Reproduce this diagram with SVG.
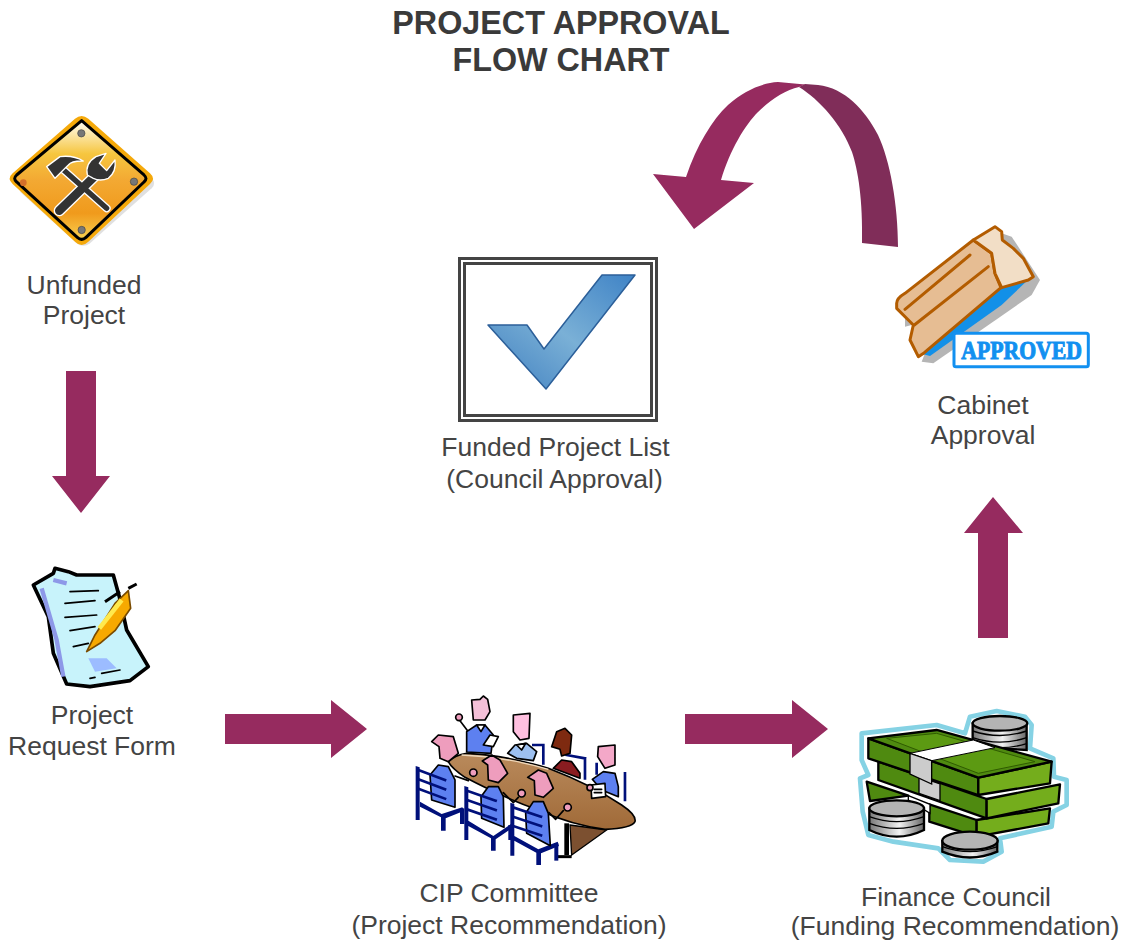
<svg xmlns="http://www.w3.org/2000/svg" width="1123" height="940" viewBox="0 0 1123 940">
<style>
.t{font-family:"Liberation Sans",Arial,sans-serif;font-size:26.500px;fill:#444;text-anchor:middle}
.h{font-family:"Liberation Sans",Arial,sans-serif;font-size:32.300px;font-weight:bold;fill:#3a3a3a;text-anchor:middle}
.a{fill:#962b5f}
.o{stroke:#000;stroke-width:5;stroke-linejoin:round;stroke-linecap:round}
.l{fill:none;stroke:#000;stroke-width:5;stroke-linejoin:round;stroke-linecap:round}
.cb{fill:none;stroke:#00107a;stroke-width:8;stroke-linecap:square}
.st{fill:#00107a}
.sk{fill:#ee9dbd}
.sk2{fill:#f4c0d8}
.b{fill:#5d80f0}
.d{fill:#4f8a10;stroke:#000;stroke-width:7;stroke-linejoin:round}
.e{fill:#74ad1c;stroke:#000;stroke-width:7;stroke-linejoin:round}
.c{fill:#b4b4b4;stroke:#000;stroke-width:7}
.cs{fill:url(#coin);stroke:#000;stroke-width:7}
.cl{fill:none;stroke:#000;stroke-width:4}
.s{stroke:#b35c00;stroke-width:9;stroke-linejoin:round;stroke-linecap:round}
</style>
<defs>
<linearGradient id="sign" x1="0" y1="0" x2="0" y2="1"><stop offset="0" stop-color="#fffdf4"/><stop offset=".28" stop-color="#f6c63f"/><stop offset=".5" stop-color="#f3a933"/><stop offset=".78" stop-color="#f09a1c"/><stop offset="1" stop-color="#f8d050"/></linearGradient>
<linearGradient id="chk" x1="0" y1="1" x2="1" y2="0"><stop offset="0" stop-color="#3f7fc0"/><stop offset=".5" stop-color="#7ab0d6"/><stop offset="1" stop-color="#3f83c6"/></linearGradient>
<linearGradient id="coin" x1="0" y1="0" x2="1" y2="0"><stop offset="0" stop-color="#777"/><stop offset=".55" stop-color="#f2f2f2"/><stop offset="1" stop-color="#666"/></linearGradient>
<linearGradient id="tab" x1="0" y1="0" x2="0" y2="1"><stop offset="0" stop-color="#b98a5c"/><stop offset="1" stop-color="#a06a38"/></linearGradient>
</defs>
<rect width="1123" height="940" fill="#fff"/>

<g id="title"><text class="h" x="561" y="34">PROJECT APPROVAL</text><text class="h" x="561" y="70.500">FLOW CHART</text></g>

<g id="connectors">
<path class="a" d="M66 371H96V476H110L81 513L52 476H66Z"/>
<path class="a" d="M225 714H331V700L367 729L331 758V744H225Z"/>
<path class="a" d="M685 714H792V700L828 729L792 758V744H685Z"/>
<path class="a" d="M978 638H1008V533H1023L993 497L964 533H978Z"/>
<path fill="#802d59" d="M799 87L805 84L818 85C845 88 865 110 878 135C890 160 898 205 898 247L862 243C863 200 858 170 852 152C842 125 820 100 799 87Z"/>
<path class="a" d="M653 174L686 177C697 145 712 120 728 105C745 90 762 83 778 82L805 84.500L799 87C785 90 770 100 758 112C745 125 730 150 721 180L754 183L694 229Z"/>
</g>

<g id="unfunded-project" transform="scale(.3333) translate(0 300)">
<path d="M250 60Q260 58 270 66L455 235Q470 250 455 265L270 430Q250 445 230 430L60 275Z" fill="#bbb" opacity=".45"/>
<path d="M245 48Q255 48 265 56L450 220Q468 236 450 252L265 425Q245 445 225 425L38 252Q20 236 38 220L225 56Q235 48 245 48Z" fill="#f5a90a"/>
<path d="M245 62L432 225Q444 236 432 246L258 412Q245 424 232 412L50 246Q38 236 50 225Z" fill="url(#sign)" stroke="#000" stroke-width="9" stroke-linejoin="round"/>
<circle cx="244" cy="100" r="11" fill="#777" stroke="#444" stroke-width="2"/><circle cx="402" cy="245" r="11" fill="#777" stroke="#444" stroke-width="2"/><circle cx="245" cy="390" r="11" fill="#777" stroke="#444" stroke-width="2"/><circle cx="70" cy="248" r="10" fill="#d5702a"/>
<g fill="none" stroke-linecap="round">
<path d="M185 205L320 325" stroke="#fff" stroke-width="24"/>
<path d="M178 332L285 228" stroke="#fff" stroke-width="34"/>
<path d="M178 332L285 228" stroke="#333" stroke-width="26"/>
<path d="M185 205L320 325" stroke="#333" stroke-width="16"/>
</g>
<path d="M140 200L180 170Q220 165 250 183Q215 182 205 195L165 235Z" fill="#333" stroke="#fff" stroke-width="4" stroke-linejoin="round"/>
<path d="M288 170L318 160L298 190L320 212L345 180Q350 215 325 235Q300 245 280 235L262 225Q255 190 288 170Z" fill="#333" stroke="#fff" stroke-width="4" stroke-linejoin="round"/>
</g>
<g id="unfunded-project-label"><text class="t" x="84" y="294">Unfunded</text><text class="t" x="84" y="324">Project</text></g>

<g id="project-request-form" transform="translate(20 560) scale(.3333)">
<path d="M105 25L145 35L170 45L280 45L298 110L320 210L385 320L330 362L210 380L140 372L100 280L85 170L40 75L100 40Z" fill="#c8f3fb" stroke="#000" stroke-width="11" stroke-linejoin="round"/>
<path d="M65 85L110 240L130 350M100 60L140 70" stroke="#8d98e8" stroke-width="13" fill="none"/>
<path d="M150 95L235 92M135 130L225 122M135 172L230 165M150 212L225 200M160 260L205 250" class="l" stroke-width="8" stroke="#333"/>
<path d="M205 295L260 295L290 325L225 335Z" fill="#9cbcff"/>
<path d="M245 340L300 330M210 355L225 352" class="l" stroke-width="7"/>
<path d="M200 275L225 225L285 130L325 92L332 145L285 212L240 250Z" fill="#f7a900" stroke="#7a4b00" stroke-width="5" stroke-linejoin="round"/>
<path d="M238 205L305 120" stroke="#ffe94d" stroke-width="14"/>
<path d="M255 125L300 95M325 85L350 72" stroke="#000" stroke-width="9"/>
</g>
<g id="project-request-form-label"><text class="t" x="92" y="724">Project</text><text class="t" x="92" y="755">Request Form</text></g>

<g id="cip-committee" transform="translate(405 690) scale(.3333)">
<path class="cb" d="M415 165V220M385 165H415M540 205V265M485 195L540 205M660 250V330M575 222V250"/>
<circle cx="162" cy="82" r="10" class="sk o" stroke-width="4"/>
<path class="l" d="M165 92L190 125"/>
<path class="b o" d="M185 125L215 105H240L265 135L258 190L185 186Z"/>
<path class="o" fill="#fff" d="M215 105L228 125L240 105Z"/>
<path class="o" fill="#fff" d="M235 165L255 135L280 140L265 170Z"/>
<path class="sk2 o" d="M200 30L225 28L235 18L248 28L255 65L240 90L205 90Z"/>
<path class="o" fill="#9dc0f0" d="M308 190L330 165L365 160L395 185L385 212L335 205Z"/>
<path class="o" fill="#fff" d="M335 165L350 180L362 160Z"/>
<path class="o" fill="#ffc0e0" d="M325 75L375 70L372 145L345 150L325 125Z"/>
<path class="o" fill="#8a1c20" d="M445 235L470 210L500 215L525 250L525 265Z"/>
<path class="o" fill="#7e2a10" d="M440 170L455 125L480 115L500 135L495 190L470 198L465 178Z"/>
<path class="b o" d="M562 268L595 245L630 250L640 290L640 320L590 300Z"/>
<path class="o" fill="#f4a8c8" d="M580 170L630 165L630 225L600 235L578 200Z"/>
<path fill="#7c5030" stroke="#000" stroke-width="4" d="M495 405L605 420L500 495Z"/>
<path d="M485 400V495" stroke="#000" stroke-width="14"/>
<path d="M450 500H500" stroke="#000" stroke-width="9"/>
<path fill="url(#tab)" stroke="#000" stroke-width="5" d="M130 215Q150 195 185 190Q300 195 430 235Q560 285 650 345Q695 375 690 395Q680 415 600 418Q500 405 400 360Q300 325 180 262Q140 235 130 215Z"/>
<path d="M170 195Q300 200 430 238" fill="none" stroke="#efd9bc" stroke-width="4"/>
<path class="o" fill="#fff" d="M558 285L600 280L602 320L560 325Z"/>
<path class="l" d="M568 298H590M568 308H590" stroke-width="4"/>
<circle cx="555" cy="293" r="9" class="sk o" stroke-width="4"/>
<path class="st" d="M32 228L44 232V390H32ZM45 335L110 372L172 352L178 362L122 385V422H108V382L45 350Z"/>
<path class="st" d="M165 355H178V402H165Z"/>
<path class="b o" d="M75 255L100 225L130 230L150 270L150 352L80 330Z"/>
<path class="sk o" d="M80 155L100 135L145 140L160 190L130 215L105 205L102 170Z"/>
<path class="l" d="M150 258L190 272"/><circle cx="205" cy="248" r="11" class="sk o" stroke-width="4"/>
<path class="cb" d="M40 240L120 270M40 268L120 298M40 296L120 326"/>
<path class="st" d="M178 288L190 292V450H178ZM190 392L265 438L318 402L325 412L272 448V482H258V445L190 408Z"/>
<path class="st" d="M310 405H322V450H310Z"/>
<path class="b o" d="M228 320L250 290H280L295 320L297 412L230 385Z"/>
<path class="sk o" d="M232 213L260 195L285 210L308 250L280 278L250 270L248 225Z"/>
<path class="l" d="M295 308L325 338L340 322"/><circle cx="350" cy="310" r="11" class="sk o" stroke-width="4"/>
<path class="cb" d="M186 302L272 332M186 330L272 360M186 358L272 388"/>
<path class="st" d="M316 338L328 342V497H316ZM328 438L400 478L458 455L462 468L408 490V525H394V488L328 452Z"/>
<path class="st" d="M448 460H460V512H448Z"/>
<path class="b o" d="M362 370L385 335H415L430 370L436 467L365 430Z"/>
<path class="sk o" d="M368 262L400 240L425 250L445 295L415 322L390 315L388 272Z"/>
<path class="l" d="M432 368L452 388L475 362"/><circle cx="488" cy="352" r="11" class="sk o" stroke-width="4"/>
<path class="cb" d="M324 352L408 380M324 380L408 408M324 408L408 436"/>
</g>
<g id="cip-committee-label"><text class="t" x="509" y="902">CIP Committee</text><text class="t" x="509" y="934">(Project Recommendation)</text></g>

<g id="finance-council" transform="translate(850 705) scale(.3333)">
<path d="M35 85L260 60L345 85L360 35L440 18L525 35L545 60L540 130L610 160L612 215L650 225L650 300L610 320L605 365L450 400L455 440L400 470L300 465L265 430L130 410L55 390L38 320L30 220L55 210L35 165Z" fill="#fff" stroke="#85d2e4" stroke-width="14" stroke-linejoin="round"/>
<path class="cs" d="M368 55V125L530 135V55Z"/>
<path class="cl" d="M368 78Q450 105 530 78M368 98Q450 125 530 98M368 116Q450 140 530 116"/>
<ellipse cx="450" cy="55" rx="82" ry="22" class="c"/>
<path class="d" d="M50 230L175 272L60 288Z"/>
<path class="d" d="M238 298L380 345V395L238 350Z"/>
<path class="e" d="M380 345L600 310L595 355L380 395Z"/>
<path d="M175 272L240 298V325L175 285Z" fill="#fff" stroke="#000" stroke-width="4"/>
<path class="d" d="M85 170L410 282V340L85 225Z"/>
<path class="e" d="M410 282L630 238L625 295L410 340Z"/>
<path d="M207 215L270 237V287L207 265Z" fill="#ccc" stroke="#000" stroke-width="4"/>
<path class="d" d="M55 100L385 218V270L55 160Z"/>
<path class="e" d="M385 218L605 170L600 235L385 270Z"/>
<path class="d" d="M55 100L260 75L605 170L385 218Z"/>
<path d="M110 100L260 85L555 170L385 205Z" fill="#5c9a12" stroke="#2f5a00" stroke-width="3"/>
<path d="M180 145L370 105L435 128L245 167Z" fill="#fff" stroke="#000" stroke-width="3"/>
<path d="M180 145L245 167V237L180 207Z" fill="#ccc" stroke="#000" stroke-width="4"/>
<path class="cs" d="M58 310V375Q140 415 222 375V310Z"/>
<path class="cl" d="M58 335Q140 365 222 335M58 355Q140 385 222 355"/>
<ellipse cx="140" cy="310" rx="82" ry="24" class="c"/>
<path class="cs" d="M277 408V440Q360 475 442 440V408Z"/>
<path class="cl" d="M277 425Q360 455 442 425"/>
<ellipse cx="360" cy="407" rx="83" ry="27" class="c"/>
</g>
<g id="finance-council-label"><text class="t" x="956" y="906">Finance Council</text><text class="t" x="955" y="934.500">(Funding Recommendation)</text></g>

<g id="cabinet-approval" transform="translate(885 220) scale(.3333)">
<path d="M350 40L380 50L465 180L440 225L145 430L110 425L120 400Z" fill="#b5b5b5"/>
<path d="M60 295L80 315L60 320Z" fill="#b5b5b5"/>
<path fill="#1290e8" d="M340 205L434 175L350 255L135 408L112 402Z"/>
<path class="s" fill="#e6bd93" d="M35 250Q35 235 60 220L265 60L320 100L330 160L348 203L118 398L100 410L75 360L85 315L35 265Z"/>
<path class="s" fill="#f2dec6" d="M265 60L330 20L350 35L352 60L385 85L415 115L445 170L430 180L350 203L330 160L320 100Z"/>
<path class="s" d="M60 268L255 105" fill="none" stroke-width="5"/>
<path class="s" d="M88 315L310 140" fill="none"/>
<rect x="207" y="340" width="403" height="100" rx="6" fill="#fff" stroke="#1290f0" stroke-width="9"/>
<text x="410" y="416" font-family="Liberation Serif,serif" font-size="74" font-weight="bold" fill="#1290f0" stroke="#1290f0" stroke-width="3" text-anchor="middle" textLength="362" lengthAdjust="spacingAndGlyphs">APPROVED</text>
</g>
<g id="cabinet-approval-label"><text class="t" x="983" y="414">Cabinet</text><text class="t" x="983" y="444">Approval</text></g>

<g id="funded-project-list">
<rect x="459.500" y="258.500" width="197" height="162" fill="#fff" stroke="#444" stroke-width="3"/>
<rect x="464.500" y="263.500" width="187" height="152" fill="#fff" stroke="#444" stroke-width="3"/>
<path d="M488 325H527L544 349L602 275H635L546 389Z" fill="url(#chk)" stroke="#2c5f99" stroke-width="1.500" stroke-linejoin="round"/>
</g>
<g id="funded-project-list-label"><text class="t" x="555.500" y="456">Funded Project List</text><text class="t" x="554.500" y="488">(Council Approval)</text></g>
</svg>
